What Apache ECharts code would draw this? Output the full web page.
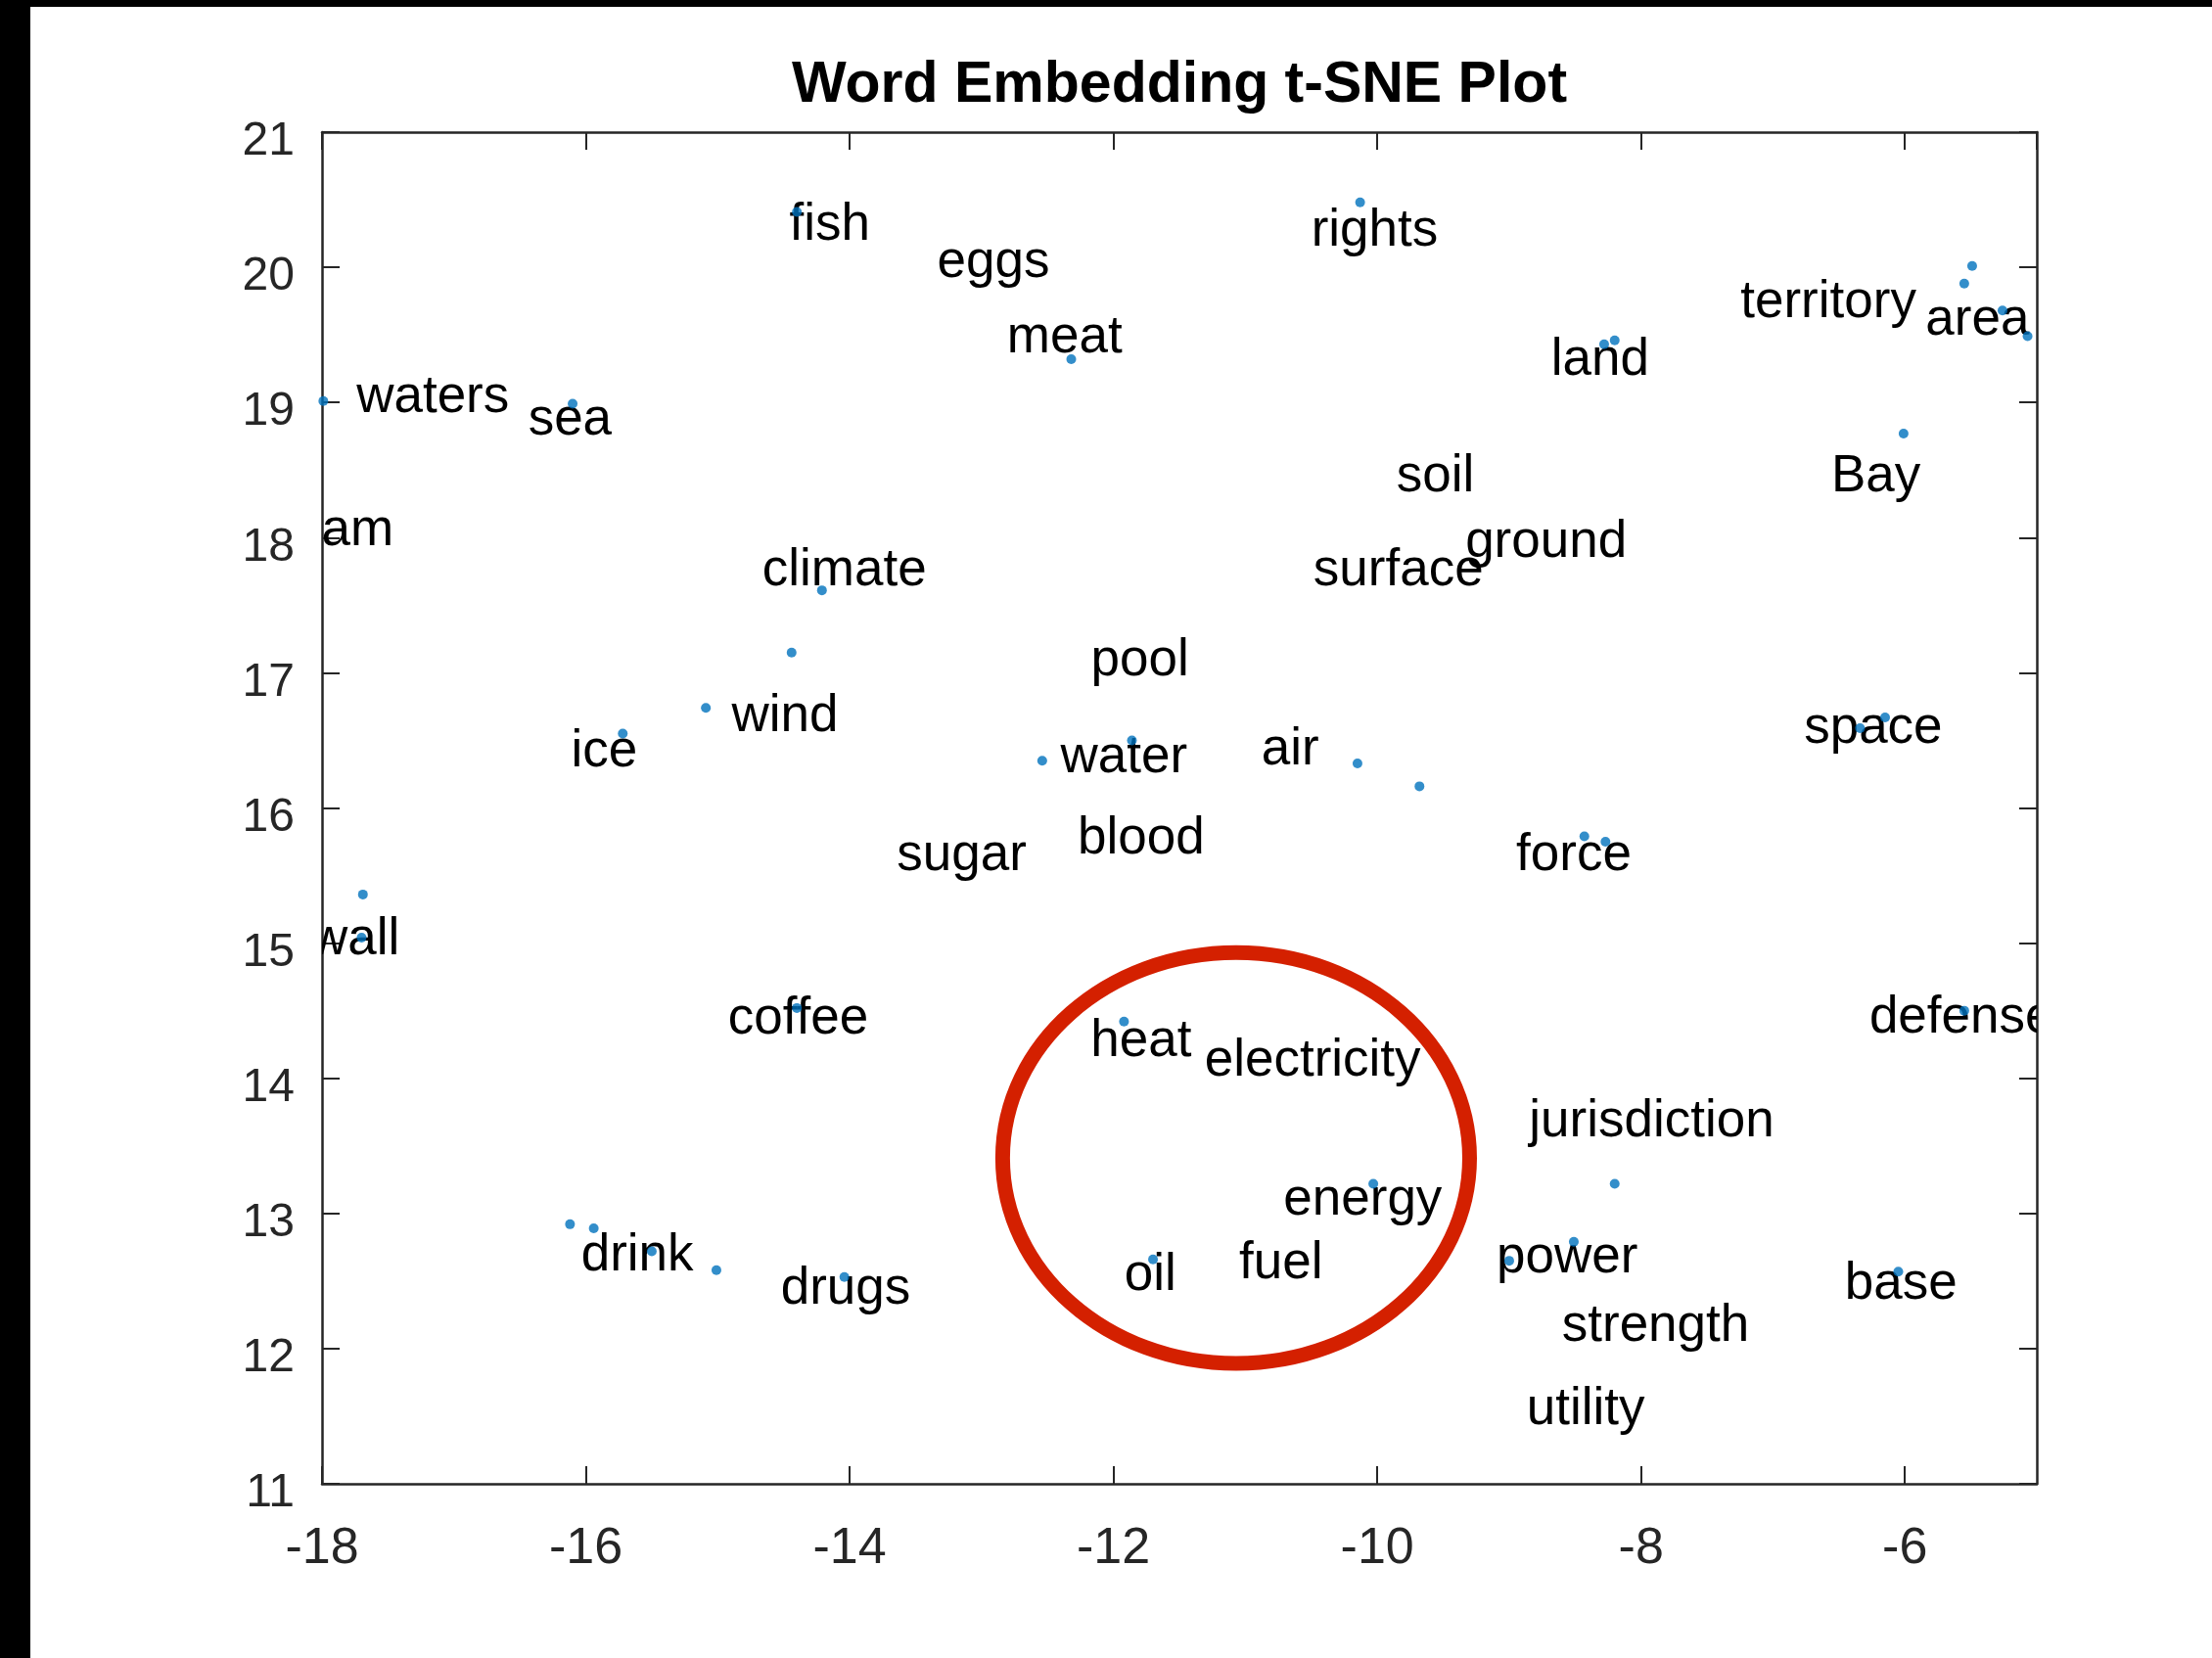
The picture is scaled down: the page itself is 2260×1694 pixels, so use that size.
<!DOCTYPE html>
<html>
<head>
<meta charset="utf-8">
<script src="https://cdn.jsdelivr.net/npm/echarts@6/dist/echarts.min.js"></script>
<style>
  html, body { margin: 0; padding: 0; background: #fff; }
  #chart { width: 2260px; height: 1694px; }
</style>
</head>
<body>
<div id="chart"></div>
<script>
// Labelled words: text is centred on each word's 2-D t-SNE coordinate.
const words = ['fish', 'eggs', 'meat', 'rights', 'territory', 'area', 'land', 'waters', 'sea', 'soil',
  'Bay', 'am', 'climate', 'ground', 'surface', 'pool', 'wind', 'ice', 'water', 'air',
  'space', 'sugar', 'blood', 'force', 'wall', 'coffee', 'heat', 'electricity', 'defense', 'jurisdiction',
  'energy', 'drink', 'power', 'oil', 'fuel', 'drugs', 'base', 'strength', 'utility'];
const wordX = [-14.15, -12.91, -12.37, -10.02, -6.58, -5.45, -8.31, -17.16, -16.12, -9.56,
  -6.22, -17.73, -14.04, -8.72, -9.84, -11.80, -14.49, -15.86, -11.92, -10.66,
  -6.24, -13.15, -11.79, -8.51, -17.75, -14.39, -11.79, -10.49, -5.57, -7.92,
  -10.11, -15.61, -8.56, -11.72, -10.73, -14.03, -6.03, -7.89, -8.42];
const wordY = [20.35, 20.08, 19.52, 20.31, 19.78, 19.65, 19.35, 19.08, 18.91, 18.49,
  18.49, 18.09, 17.80, 18.01, 17.80, 17.13, 16.72, 16.46, 16.41, 16.47,
  16.63, 15.69, 15.81, 15.69, 15.07, 14.48, 14.31, 14.17, 14.49, 13.72,
  13.14, 12.73, 12.71, 12.58, 12.67, 12.48, 12.52, 12.21, 11.59];

// Words whose labels were suppressed: shown as plain markers.
const dotX = [-14.40, -10.13, -5.49, -5.55, -5.26, -5.07, -8.28, -8.20, -12.32, -16.10,
  -17.99, -6.01, -14.21, -14.44, -15.09, -15.72, -12.54, -11.86, -10.15, -9.68,
  -8.43, -8.27, -6.15, -6.34, -17.69, -17.70, -14.40, -11.92, -5.55, -16.12,
  -15.94, -15.50, -15.01, -14.04, -11.70, -10.03, -8.20, -8.51, -9.00, -6.05];
const dotY = [20.41, 20.48, 20.01, 19.88, 19.68, 19.49, 19.43, 19.46, 19.32, 18.99,
  19.01, 18.77, 17.61, 17.15, 16.74, 16.55, 16.35, 16.50, 16.33, 16.16,
  15.79, 15.75, 16.67, 16.59, 15.36, 15.04, 14.52, 14.42, 14.50, 12.92,
  12.89, 12.72, 12.58, 12.53, 12.66, 13.22, 13.22, 12.79, 12.65, 12.57];

// Axis ranges and tick steps
const xRange = [-18, -5];
const yRange = [11, 21];
const xStep = 2;
const yStep = 1;

// Energy cluster ring: centre and radii in data units
const cluster = { x: -11.07, y: 13.41, rx: 1.77, ry: 1.52 };

const FONT = '"Liberation Sans", Arial, Helvetica, sans-serif';
const AXIS = '#262626';

const chart = echarts.init(document.getElementById('chart'));

function frameX(position, showLabels) {
  return {
    type: 'value', min: xRange[0], max: xRange[1], interval: xStep, position: position,
    axisLine: { show: true, onZero: false, lineStyle: { color: AXIS, width: 2.5 } },
    axisTick: { show: true, inside: true, length: 18, lineStyle: { color: AXIS, width: 2 } },
    axisLabel: { show: showLabels, showMaxLabel: false, margin: 41, fontSize: 52, color: AXIS, fontFamily: FONT },
    splitLine: { show: false }
  };
}
function frameY(position, showLabels) {
  return {
    type: 'value', min: yRange[0], max: yRange[1], interval: yStep, position: position,
    axisLine: { show: true, onZero: false, lineStyle: { color: AXIS, width: 2.5 } },
    axisTick: { show: true, inside: true, length: 18, lineStyle: { color: AXIS, width: 2 } },
    axisLabel: {
      show: showLabels, margin: 28, fontSize: 48, color: AXIS, fontFamily: FONT,
      verticalAlign: 'top', lineHeight: 20
    },
    splitLine: { show: false }
  };
}

const option = {
  backgroundColor: '#ffffff',
  animation: false,
  grid: { left: 329, top: 135, width: 1752, height: 1381, containLabel: false },
  xAxis: [frameX('bottom', true), frameX('top', false)],
  yAxis: [frameY('left', true), frameY('right', false)],
  graphic: [
    { type: 'rect', left: 0, top: 0, shape: { width: 31, height: 1694 }, style: { fill: '#000' }, z: 100 },
    { type: 'rect', left: 0, top: 0, shape: { width: 2260, height: 7 }, style: { fill: '#000' }, z: 100 },
    {
      type: 'text', x: 1205, y: 88, z: 100,
      style: {
        text: 'Word Embedding t-SNE Plot', fill: '#000', font: 'bold 59px ' + FONT,
        align: 'center', verticalAlign: 'middle'
      }
    }
  ],
  series: [
    {
      type: 'custom',
      name: 'labels',
      clip: true,
      z: 2,
      data: words.map((w, i) => [wordX[i], wordY[i]]),
      encode: { x: 0, y: 1 },
      renderItem: function (params, api) {
        const p = api.coord([api.value(0), api.value(1)]);
        return {
          type: 'text', x: p[0], y: p[1] + 6,
          style: {
            text: words[params.dataIndex], fill: '#000',
            font: '53px ' + FONT, align: 'center', verticalAlign: 'middle'
          }
        };
      }
    },
    {
      type: 'scatter',
      name: 'points',
      z: 3,
      symbol: 'circle',
      symbolSize: 10,
      itemStyle: { color: '#0072BD' },
      data: dotX.map((x, i) => [x, dotY[i]])
    },
    {
      type: 'custom',
      name: 'cluster',
      z: 4,
      data: [[cluster.x, cluster.y]],
      encode: { x: 0, y: 1 },
      renderItem: function (params, api) {
        const c = api.coord([api.value(0), api.value(1)]);
        const r = api.size([cluster.rx, cluster.ry]);
        return {
          type: 'ellipse',
          shape: { cx: c[0], cy: c[1], rx: r[0], ry: r[1] },
          style: { fill: 'none', stroke: '#D42000', lineWidth: 15 }
        };
      }
    }
  ]
};

chart.setOption(option);
</script>
</body>
</html>
